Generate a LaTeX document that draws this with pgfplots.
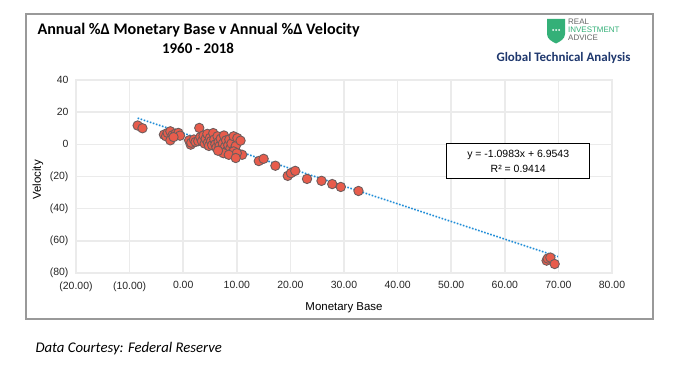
\documentclass[border=0pt]{standalone}
\usepackage{pgfplots}
\pgfplotsset{compat=1.18}
\usepackage{fontspec}
\setmainfont{Liberation Sans}
\newfontfamily\calibri{Carlito}
\definecolor{mk}{RGB}{232,92,76}
\definecolor{mkedge}{RGB}{110,92,92}
\definecolor{trend}{RGB}{30,140,215}
\definecolor{gridc}{RGB}{235,235,235}
\definecolor{navy}{RGB}{31,56,110}
\definecolor{rigreen}{RGB}{52,176,120}
\begin{document}
\begin{tikzpicture}[x=1bp,y=1bp]
\path[use as bounding box,fill=white] (0,0) rectangle (680,367);
\draw[draw=black!40,line width=1.2bp] (26,48) rectangle (653,353);
\begin{axis}[
  at={(76bp,94bp)}, anchor=south west,
  scale only axis, width=536bp, height=193bp,
  xmin=-20, xmax=80, ymin=-80, ymax=40,
  xtick={-20,-10,0,10,20,30,40,50,60,70,80},
  xticklabels={(20.00),(10.00),0.00,10.00,20.00,30.00,40.00,50.00,60.00,70.00,80.00},
  ytick={-80,-60,-40,-20,0,20,40},
  yticklabels={(80),(60),(40),(20),0,20,40},
  grid=major,
  major grid style={draw=gridc,line width=1.5bp},
  axis line style={draw=gridc,line width=1.5bp},
  tick style={draw=none},
  tick label style={font=\fontsize{10.5}{12}\selectfont, text=black!85},
  xticklabel style={yshift=-5bp},
  yticklabel style={xshift=-4bp},
  clip=false,
]
\addplot[only marks, mark=*, mark size=4.7bp, mark options={fill=mk, draw=mkedge, line width=0.9bp}] coordinates {
(-8.5,11.7) (-7.6,10.0)
(-3.6,6.0) (-3.2,5.0) (-2.9,7.1) (-2.4,8.1) (-2.0,5.6) (-2.4,2.5) (-1.4,6.7) (-0.9,7.1) (-0.6,5.4) (-1.8,4.5)
(1.1,2.5) (1.4,-0.2) (1.5,1.0) (2.0,3.0) (2.3,1.5) (2.8,2.0) (3.0,10.2) (3.2,4.5) (3.5,2.0) (3.8,5.5)
(4.0,0.5) (4.2,3.5) (4.5,6.5) (4.6,1.0) (4.8,-1.0) (5.0,4.0) (5.2,2.0) (5.4,-0.5) (5.6,7.0) (5.8,3.0)
(6.0,0.0) (6.2,-2.0) (6.4,5.0) (6.6,1.5) (6.8,-1.0) (7.0,3.5) (7.2,-3.0) (7.4,0.5) (7.6,5.5) (7.8,-1.5)
(8.0,2.5) (8.2,-4.0) (8.4,-0.5) (8.6,3.0) (8.8,-2.5) (9.0,0.5) (9.2,-5.0) (9.4,5.0) (9.6,-3.0) (9.8,-1.0)
(10.1,3.9) (10.4,-6.0) (10.7,2.3) (11.0,-6.5) (9.4,-4.4) (10.0,-5.5) (7.5,-5.5) (8.5,-6.5) (6.5,-4.0) (9.8,-8.5)
(14.1,-10.4) (15.0,-9.0) (17.2,-13.3) (19.5,-19.6) (20.1,-17.9) (20.9,-16.5) (23.1,-21.5) (25.8,-22.7)
(27.8,-24.7) (29.4,-26.5) (32.7,-29.0)
(67.8,-72.3) (68.0,-71.0) (68.5,-70.4) (69.3,-74.4)
};
\addplot[draw=trend, line width=1.6bp, dash pattern=on 1.6bp off 1.6bp] coordinates {(-8.5,16.29) (69.9,-69.82)};
\node[draw=black, fill=white, line width=0.6bp, align=center, minimum width=143bp, minimum height=35bp, inner sep=2bp,
  font=\fontsize{10.5}{15}\selectfont] at (axis cs:62.5,-10.4) {y = -1.0983x + 6.9543\\R² = 0.9414};
\end{axis}
\node[anchor=west, font=\calibri\bfseries\fontsize{16.2}{18}\selectfont] at (34,337) {Annual \%Δ Monetary Base v Annual \%Δ Velocity};
\node[font=\calibri\bfseries\fontsize{15}{17}\selectfont] at (198,319) {1960 - 2018};
\node[anchor=east, font=\calibri\bfseries\fontsize{13}{15}\selectfont, text=navy] at (634,309) {Global Technical Analysis};
\fill[rigreen] (547,348) -- (565,348) -- (565,333) .. controls (565,328) and (560,325.5) .. (556,323.5) .. controls (552,325.5) and (547,328) .. (547,333) -- cycle;
\foreach \dx in {-3,0,3} \fill[white] (556+\dx,337) circle (1);
\node[anchor=west, font=\fontsize{8}{8}\selectfont, text=black!60, inner sep=0] at (568,345) {REAL};
\node[anchor=west, font=\fontsize{8}{8}\selectfont, text=rigreen, inner sep=0] at (568,337) {INVESTMENT};
\node[anchor=west, font=\fontsize{8}{8}\selectfont, text=black!60, inner sep=0] at (568,329) {ADVICE};
\node[font=\fontsize{11.5}{13}\selectfont] at (344,59) {Monetary Base};
\node[rotate=90, font=\fontsize{11.5}{13}\selectfont] at (38,187) {Velocity};
\node[anchor=west, font=\calibri\itshape\fontsize{14.8}{17}\selectfont] at (32,18) {Data Courtesy: Federal Reserve};
\end{tikzpicture}
\end{document}
